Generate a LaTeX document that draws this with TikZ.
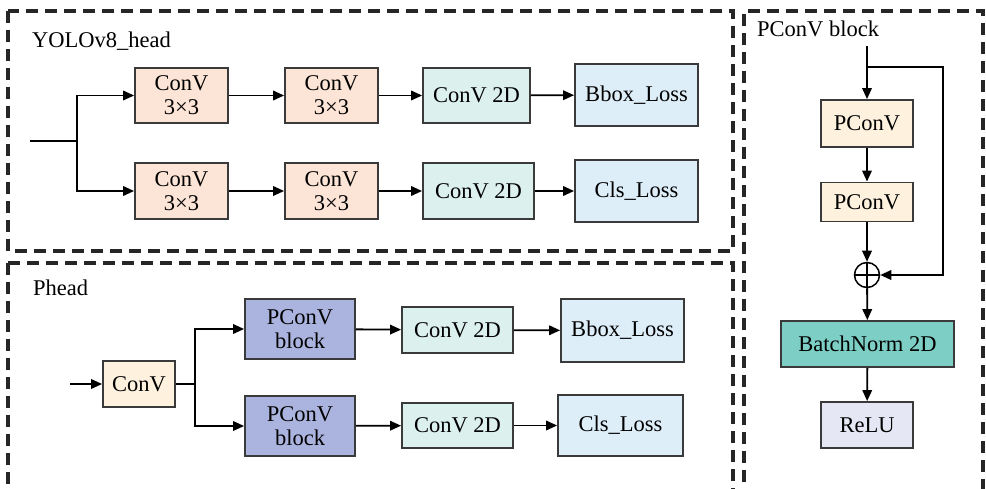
\documentclass[tikz,border=0pt]{standalone}
\usepackage{fontspec}
\setmainfont{Liberation Serif}
\usetikzlibrary{arrows.meta}
\definecolor{peach}{HTML}{FCE4D6}
\definecolor{cream}{HTML}{FEF2DF}
\definecolor{mint}{HTML}{DCF0EE}
\definecolor{skyl}{HTML}{DEEEF9}
\definecolor{lavblue}{HTML}{ABB4DE}
\definecolor{tealbn}{HTML}{7DCFC5}
\definecolor{paleblue}{HTML}{E5E8F4}
\definecolor{edge}{HTML}{3A3A3A}
\begin{document}
\begin{tikzpicture}[x=1pt,y=-1pt,
  blk/.style={draw=edge, line width=1.8pt, inner sep=0pt, align=center,
    font=\fontsize{22.5}{24}\selectfont},
  frame/.style={draw=black!85, line width=3.8pt, dash pattern=on 12pt off 7pt},
  flow/.style={line width=1.8pt, -{Triangle[length=11pt,width=9.5pt]}},
  wire/.style={line width=1.8pt},
  title/.style={anchor=west, inner sep=0pt, font=\fontsize{22.5}{24}\selectfont}]
\useasboundingbox (0,0) rectangle (986,489);
\clip (0,0) rectangle (986,489);

% dashed panels
\draw[frame] (8,11) rectangle (733,251);
\draw[frame] (8,263) -- (733,263) -- (733,520);
\draw[frame] (8,263) -- (8,520);
\draw[frame] (744,520) -- (744,11) -- (983,11) -- (983,520);

\node[title] (t1) at (32,41) {YOLOv8\_head};
\node[title] (t2) at (33,288) {Phead};
\node[title] (t3) at (757,29) {PConV block};

% ---- YOLOv8 head ----
\node[blk, fill=peach, minimum width=93pt, minimum height=55pt] (c11) at (181.5,95.5) {ConV\\3×3};
\node[blk, fill=peach, minimum width=93pt, minimum height=55pt] (c12) at (331.5,95.5) {ConV\\3×3};
\node[blk, fill=mint, minimum width=107pt, minimum height=55pt] (d1) at (476.5,95.5) {ConV 2D};
\node[blk, fill=skyl, minimum width=123pt, minimum height=62pt] (l1) at (636.5,95) {Bbox\_Loss};
\node[blk, fill=peach, minimum width=93pt, minimum height=56pt] (c21) at (181.5,191) {ConV\\3×3};
\node[blk, fill=peach, minimum width=93pt, minimum height=56pt] (c22) at (331.5,191) {ConV\\3×3};
\node[blk, fill=mint, minimum width=111pt, minimum height=56pt] (d2) at (478.5,191) {ConV 2D};
\node[blk, fill=skyl, minimum width=123pt, minimum height=62pt] (l2) at (636.5,191) {Cls\_Loss};

\coordinate (yin) at (30,141);
\coordinate (ysplit) at (77,141);
\draw[wire] (yin) -- (ysplit);
\draw[flow] (ysplit) |- (c11);
\draw[flow] (ysplit) |- (c21);
\draw[flow] (c11) -- (c12);
\draw[flow] (c12) -- (d1);
\draw[flow] (d1) -- (l1);
\draw[flow] (c21) -- (c22);
\draw[flow] (c22) -- (d2);
\draw[flow] (d2) -- (l2);

% ---- Phead ----
\node[blk, fill=cream, minimum width=72pt, minimum height=46pt] (pc) at (139,384) {ConV};
\node[blk, fill=lavblue, minimum width=110pt, minimum height=60pt] (pb1) at (300,329) {PConV\\block};
\node[blk, fill=lavblue, minimum width=110pt, minimum height=60pt] (pb2) at (300,426) {PConV\\block};
\node[blk, fill=mint, minimum width=111pt, minimum height=46pt] (pd1) at (457.5,330) {ConV 2D};
\node[blk, fill=mint, minimum width=111pt, minimum height=45pt] (pd2) at (457.5,425.5) {ConV 2D};
\node[blk, fill=skyl, minimum width=123pt, minimum height=63pt] (pl1) at (622.5,330.5) {Bbox\_Loss};
\node[blk, fill=skyl, minimum width=125pt, minimum height=61pt] (pl2) at (620.5,425.5) {Cls\_Loss};

\coordinate (pin) at (70,384);
\coordinate (psplit) at (195,384);
\draw[flow] (pin) -- (pc);
\draw[wire] (pc) -- (psplit);
\draw[flow] (psplit) |- (pb1);
\draw[flow] (psplit) |- (pb2);
\draw[flow] (pb1) -- (pd1);
\draw[flow] (pb2) -- (pd2);
\draw[flow] (pd1) -- (pl1);
\draw[flow] (pd2) -- (pl2);

% ---- PConV block ----
\node[blk, fill=cream, minimum width=92pt, minimum height=47pt] (v1) at (867,123.5) {PConV};
\node[blk, fill=cream, minimum width=92pt, minimum height=39pt] (v2) at (867,202) {PConV};
\node[draw=black, line width=1.5pt, circle, minimum size=25pt, inner sep=0pt] (sum) at (867,275) {};
\draw[line width=1.5pt] (sum.north) -- (sum.south) (sum.west) -- (sum.east);
\node[blk, fill=tealbn, minimum width=173pt, minimum height=46pt] (bn) at (867.5,344) {BatchNorm 2D};
\node[blk, fill=paleblue, minimum width=92pt, minimum height=46pt] (relu) at (867,425) {ReLU};

\coordinate (vin) at (867,46);
\coordinate (vsplit) at (867,67);
\coordinate (vcorner) at (943,67);
\draw[flow] (vin) -- (v1);
\draw[flow] (v1) -- (v2);
\draw[flow] (v2) -- (sum);
\draw[flow] (vsplit) -- (vcorner) |- (sum);
\draw[flow] (sum) -- (bn);
\draw[flow] (bn) -- (relu);
\end{tikzpicture}
\end{document}
